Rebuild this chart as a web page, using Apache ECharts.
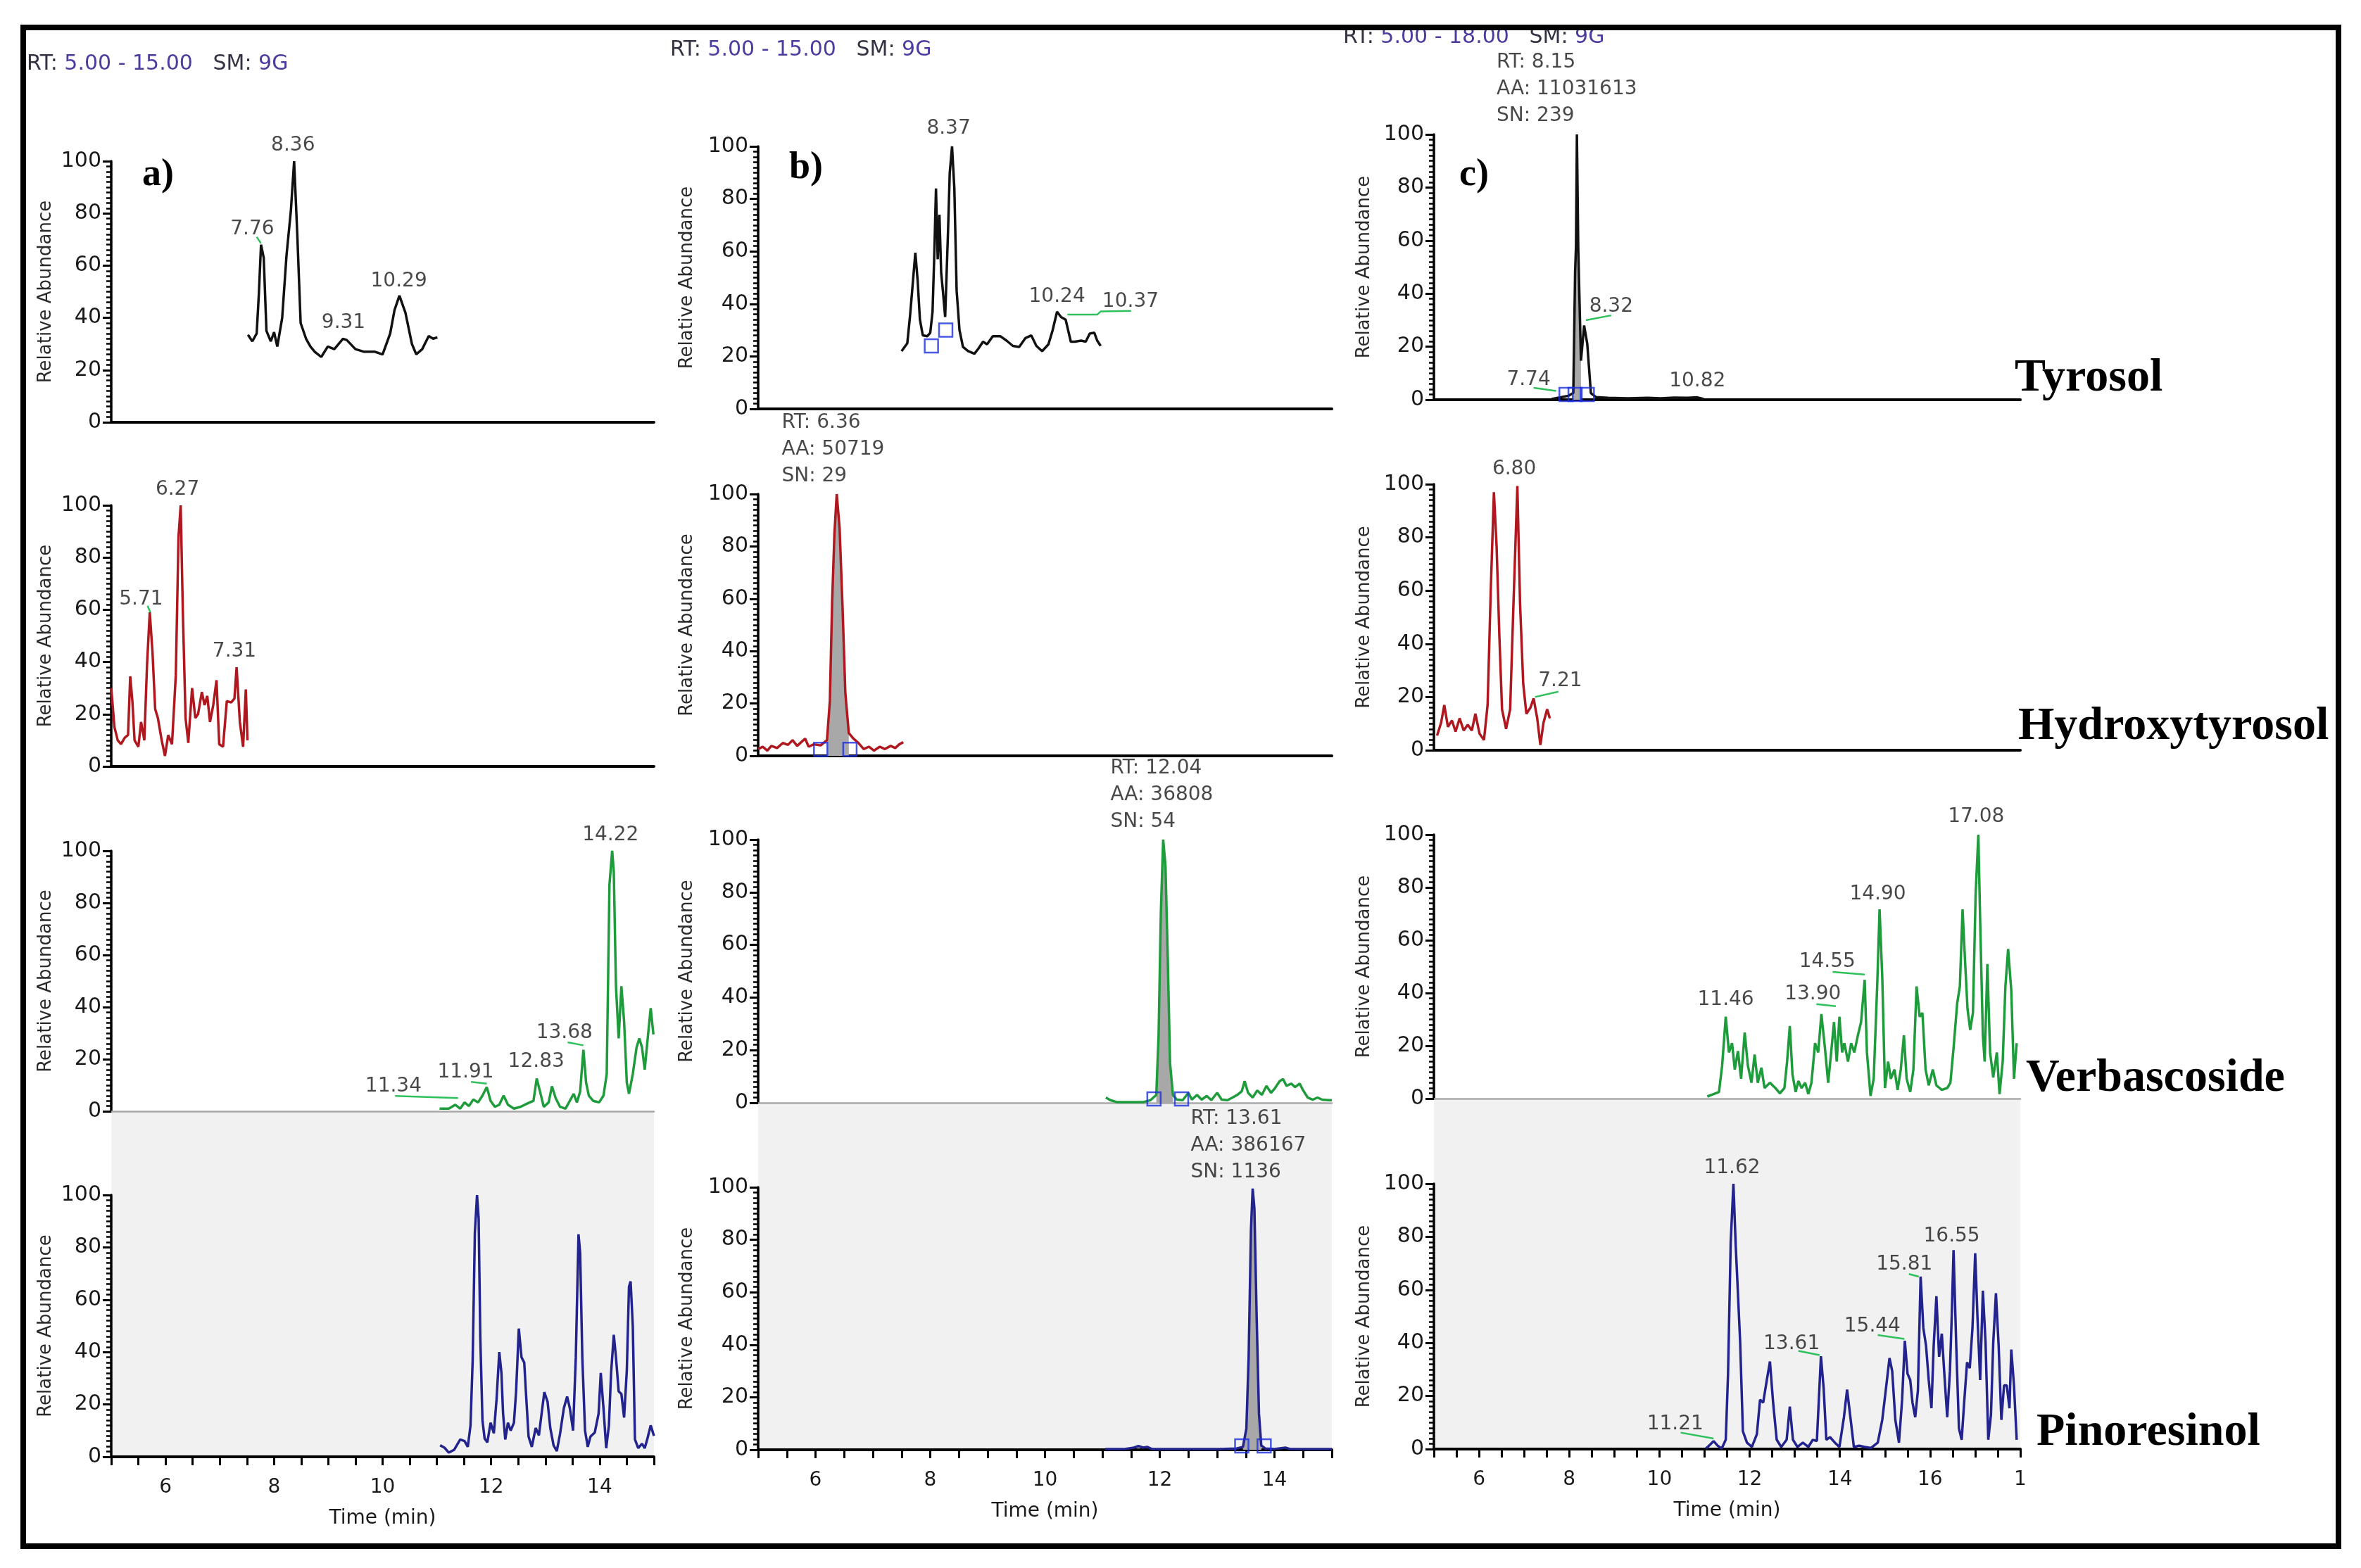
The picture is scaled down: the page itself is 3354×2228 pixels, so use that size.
<!DOCTYPE html>
<html><head><meta charset="utf-8">
<script src="https://cdn.jsdelivr.net/npm/echarts/dist/echarts.min.js"></script>
<style>html,body{margin:0;padding:0;background:#fff}#c{width:3354px;height:2228px}</style>
</head><body><div id="c"></div>
<script>
// ---------------- DATA ----------------
const compounds = ['Tyrosol', 'Hydroxytyrosol', 'Verbascoside', 'Pinoresinol'];
const panelLetters = ['a)', 'b)', 'c)'];
const rtRanges = [[5, 15], [5, 15], [5, 18]];
const headerRanges = ['5.00 - 15.00', '5.00 - 15.00', '5.00 - 18.00'];
const headerSmooth = '9G';

// Tyrosol traces [time, relative abundance]
const tyrosolA = [[7.52,33.5],[7.60,31],[7.68,34],[7.72,49],[7.76,68],[7.81,63],[7.86,35],[7.94,31],[8.00,34.5],[8.06,29],[8.15,40],[8.23,64],[8.31,81],[8.37,100],[8.43,71],[8.49,38],[8.59,32],[8.67,29],[8.75,27],[8.87,25],[8.99,29],[9.11,28],[9.27,32],[9.34,31.5],[9.50,28],[9.66,27],[9.86,27],[10.00,26],[10.14,34],[10.22,43],[10.31,48.5],[10.42,42],[10.54,30],[10.62,26],[10.73,28],[10.85,33],[10.93,32],[11.01,32.5]];
const tyrosolB = [[7.50,22],[7.60,25],[7.65,36],[7.70,49],[7.74,59.5],[7.78,49],[7.82,34],[7.87,28],[7.95,27.7],[8.00,29],[8.04,37],[8.07,58.5],[8.10,84],[8.13,57],[8.16,74],[8.19,52],[8.22,45],[8.26,35],[8.31,67.7],[8.34,90],[8.38,100],[8.42,84],[8.46,45],[8.51,30],[8.57,23.6],[8.66,22],[8.77,21],[8.84,23],[8.92,25.6],[8.99,24.6],[9.09,27.7],[9.22,27.7],[9.33,26],[9.44,24],[9.55,23.6],[9.66,27],[9.76,28],[9.85,24],[9.95,22],[10.06,24.6],[10.13,29.7],[10.21,37],[10.28,35],[10.36,34],[10.45,25.6],[10.52,25.6],[10.63,26],[10.71,25.6],[10.78,28.7],[10.86,29],[10.91,26],[10.97,24]];
const tyrosolC = [[7.61,0.3],[7.83,1],[7.98,1.5],[8.09,2.5],[8.13,48],[8.15,58],[8.17,100],[8.20,57],[8.26,14.7],[8.33,28],[8.40,21],[8.48,2.5],[8.59,1],[8.86,0.7],[9.30,0.5],[9.74,0.7],[10.03,0.5],[10.32,0.8],[10.62,0.7],[10.84,0.9],[10.98,0.3]];

// Hydroxytyrosol traces
const hydroxyA = [[5.00,30],[5.06,15],[5.12,10],[5.18,8.5],[5.25,11],[5.31,12],[5.35,34.5],[5.39,25],[5.43,10],[5.50,7.5],[5.55,17],[5.61,10],[5.66,39],[5.71,59],[5.76,44],[5.81,22],[5.86,18.5],[5.93,10],[5.99,4],[6.05,12],[6.12,8.5],[6.19,35],[6.24,88],[6.28,100],[6.32,59],[6.37,18.5],[6.42,9],[6.49,30],[6.55,18.5],[6.60,20],[6.67,28.5],[6.72,23.5],[6.77,27],[6.82,17],[6.88,23.5],[6.94,33],[6.99,8.5],[7.06,7.5],[7.13,25],[7.21,24.5],[7.27,26],[7.31,38],[7.37,17],[7.43,7.5],[7.48,29.5],[7.51,10]];
const hydroxyB = [[5.00,2.6],[5.08,3.5],[5.16,2],[5.23,3.8],[5.33,3],[5.43,4.9],[5.52,4.2],[5.60,6],[5.68,3.8],[5.75,5.2],[5.82,6.6],[5.88,3.5],[5.97,4.4],[6.09,4],[6.20,6],[6.25,21],[6.29,59],[6.33,85],[6.37,100],[6.42,87],[6.47,57.6],[6.52,24],[6.58,8.7],[6.66,6.6],[6.75,4.9],[6.84,2.6],[6.93,3.5],[7.02,2],[7.12,3.5],[7.21,2.6],[7.31,3.8],[7.39,3],[7.46,4.4],[7.53,5.2]];
const hydroxyC = [[5.07,5.5],[5.16,10.4],[5.23,17],[5.31,8.8],[5.40,11.2],[5.48,7],[5.57,12],[5.66,7.4],[5.75,9.6],[5.84,7.4],[5.92,13.7],[6.01,6.3],[6.11,3.8],[6.19,17],[6.26,60],[6.33,97],[6.39,76.5],[6.45,43.5],[6.51,15.4],[6.60,8],[6.69,15.4],[6.76,53],[6.85,99.3],[6.91,55],[6.98,25],[7.05,13.7],[7.14,16],[7.21,19.5],[7.29,12],[7.36,2],[7.43,10.4],[7.51,15.4],[7.57,12]];

// Verbascoside traces
const verbA = [[11.05,1],[11.22,1],[11.34,2.5],[11.43,1],[11.51,3.4],[11.59,2],[11.67,4.5],[11.76,3.4],[11.84,6],[11.92,9.3],[11.99,4],[12.07,1.7],[12.15,2.5],[12.23,6],[12.31,2.5],[12.42,1],[12.54,1.7],[12.67,3],[12.78,4],[12.84,12.6],[12.90,7.6],[12.97,1.7],[13.06,3.4],[13.12,9.6],[13.19,5],[13.27,1.7],[13.37,1],[13.45,4],[13.52,6.7],[13.58,3.4],[13.64,7.6],[13.70,23.6],[13.75,11],[13.80,6],[13.88,4],[13.99,3.4],[14.07,6],[14.13,14.3],[14.18,87],[14.23,100],[14.26,92],[14.30,48],[14.35,28],[14.40,48],[14.45,34.5],[14.50,11],[14.54,6.7],[14.61,14.3],[14.68,24.5],[14.73,28],[14.78,24.5],[14.83,16],[14.88,27],[14.94,39.6],[14.99,29.5]];
const verbB = [[11.06,2],[11.14,1],[11.25,0.3],[11.41,0.3],[11.57,0.3],[11.72,0.3],[11.84,1],[11.94,3],[11.98,25.6],[12.02,72.6],[12.06,100],[12.10,90],[12.14,55],[12.18,15],[12.23,3],[12.30,1.2],[12.40,1],[12.50,3.8],[12.56,1.2],[12.65,3],[12.73,1.2],[12.82,2.6],[12.90,1],[13.00,3.8],[13.08,1.2],[13.18,1],[13.27,2],[13.35,3],[13.43,4.4],[13.48,8.2],[13.54,3.8],[13.62,2],[13.70,4.7],[13.78,3],[13.86,6.4],[13.94,3.8],[14.01,5.6],[14.09,8.2],[14.15,9],[14.21,6.4],[14.29,7.3],[14.36,6],[14.44,7.3],[14.50,4.7],[14.58,2],[14.67,1.2],[14.75,2],[14.83,1.2],[14.95,1],[15.00,1]];
const verbC = [[11.06,0.8],[11.20,1.7],[11.32,2.5],[11.39,12.5],[11.47,31],[11.54,17.5],[11.61,21],[11.67,11],[11.74,18],[11.81,7.5],[11.89,25],[11.96,12.5],[12.04,6],[12.11,16.7],[12.18,6],[12.26,11.7],[12.33,4],[12.45,6],[12.57,4],[12.67,2],[12.77,4],[12.83,14],[12.89,27.5],[12.95,9],[13.02,2.5],[13.08,6.7],[13.15,4],[13.23,6],[13.30,1.7],[13.37,6],[13.45,21],[13.52,17.5],[13.59,32],[13.67,19],[13.74,6],[13.81,18],[13.87,29],[13.93,14],[13.99,31],[14.05,17.5],[14.10,21],[14.18,14],[14.25,21],[14.32,17.5],[14.40,24],[14.47,29],[14.55,45],[14.60,17.5],[14.68,1],[14.75,7.5],[14.83,44],[14.88,71.7],[14.94,46],[15.00,4],[15.07,14],[15.13,7.5],[15.21,11],[15.28,3.3],[15.35,11],[15.42,24],[15.48,7.5],[15.56,2.5],[15.63,11],[15.70,42.5],[15.77,31],[15.83,32.5],[15.90,11],[15.97,5],[16.06,11],[16.14,5],[16.26,3.3],[16.38,4],[16.45,6],[16.52,19],[16.60,36],[16.66,42.5],[16.72,71.7],[16.77,54],[16.83,34],[16.89,26],[16.95,32.5],[17.01,77.5],[17.07,100],[17.11,67.5],[17.17,24],[17.21,14],[17.27,51],[17.33,17.5],[17.40,8],[17.48,17.5],[17.54,1.7],[17.61,14],[17.67,42.5],[17.73,56.7],[17.80,41],[17.86,7.5],[17.92,21]];

// Pinoresinol traces
const pinoA = [[11.06,4.4],[11.14,3.5],[11.22,1.6],[11.32,2.7],[11.43,6.6],[11.51,6],[11.57,3.8],[11.62,12],[11.66,37],[11.70,85.5],[11.74,100],[11.77,91],[11.80,46],[11.84,14],[11.88,7],[11.93,5.5],[11.99,13],[12.05,9],[12.10,22],[12.15,40],[12.19,32],[12.22,16.5],[12.26,6.6],[12.31,13],[12.36,10],[12.42,13],[12.46,25],[12.51,49],[12.56,38],[12.61,36],[12.64,25],[12.69,7.7],[12.75,3.8],[12.82,11],[12.88,8.2],[12.93,16.5],[12.98,24.7],[13.04,21],[13.09,11],[13.15,4.4],[13.21,2.2],[13.27,8.8],[13.34,18.6],[13.40,23],[13.45,18.6],[13.51,10],[13.56,38],[13.61,85],[13.64,78],[13.68,38],[13.73,10],[13.78,3.8],[13.83,7.7],[13.91,9.3],[13.98,16.5],[14.02,32],[14.07,18.6],[14.12,3.3],[14.17,12],[14.21,32],[14.26,46.6],[14.30,38],[14.35,25],[14.40,24],[14.45,15],[14.50,33],[14.54,65],[14.57,67],[14.61,50],[14.65,6.6],[14.71,3.3],[14.78,5],[14.83,3.3],[14.88,7],[14.94,12],[15.00,8]];
const pinoB = [[11.05,0.3],[11.39,0.3],[11.55,0.8],[11.63,1.4],[11.71,0.8],[11.78,1.1],[11.86,0.3],[12.25,0.3],[12.64,0.3],[13.03,0.3],[13.34,0.5],[13.45,1.1],[13.51,8],[13.55,35.5],[13.59,83.6],[13.62,99.5],[13.65,92],[13.69,50],[13.73,13.7],[13.77,1.6],[13.84,0.5],[14.00,0.3],[14.19,0.8],[14.27,0.3],[15.00,0.3]];
const pinoC = [[11.03,0.2],[11.13,1.8],[11.20,3],[11.29,1.3],[11.38,0.2],[11.47,3.5],[11.52,28],[11.58,78],[11.64,100],[11.69,77],[11.74,58.7],[11.79,40],[11.85,6.7],[11.94,2.4],[12.05,0.8],[12.16,5.6],[12.23,18.6],[12.30,17.5],[12.38,26],[12.45,33],[12.52,17.5],[12.60,3.5],[12.70,0.8],[12.82,3.5],[12.89,16],[12.96,3.5],[13.06,0.8],[13.18,2.4],[13.30,0.8],[13.40,3.5],[13.49,3],[13.58,35],[13.64,23],[13.70,3.5],[13.78,4.5],[13.89,2.4],[13.99,0.8],[14.09,12],[14.16,22.4],[14.24,11],[14.31,0.8],[14.43,1.3],[14.55,0.8],[14.69,0.4],[14.84,2.4],[14.94,11],[15.03,24],[15.10,34.3],[15.16,29.4],[15.23,11],[15.31,2.4],[15.38,18.6],[15.44,40.8],[15.50,28.4],[15.56,26],[15.61,17.5],[15.67,12],[15.73,22],[15.79,65],[15.85,45.7],[15.91,39],[15.97,26],[16.03,15.4],[16.08,39],[16.14,57.6],[16.20,34.8],[16.26,43.5],[16.32,27.3],[16.38,12],[16.44,29.4],[16.48,50],[16.52,75],[16.58,39],[16.64,7.8],[16.70,3.5],[16.76,18.6],[16.82,32.7],[16.88,30.5],[16.94,45.7],[17.00,73.8],[17.05,50],[17.11,26],[17.17,59.7],[17.23,40],[17.29,3.5],[17.35,13],[17.40,40],[17.46,58.7],[17.52,39],[17.58,11],[17.64,24],[17.70,24],[17.76,15.4],[17.80,37.5],[17.86,24],[17.92,3.5]];

// Peak labels [time, abundance, text] (text centre)
const labelsTyrosolA = [[8.35,106,'8.36'],[7.60,74,'7.76'],[9.28,38,'9.31'],[10.30,54,'10.29']];
const labelsTyrosolB = [[8.32,106.7,'8.37'],[10.21,42.8,'10.24'],[11.49,40.7,'10.37']];
const labelsTyrosolC = [[8.93,35,'8.32'],[7.10,7.6,'7.74'],[10.84,7.1,'10.82']];
const labelsHydroxyA = [[6.22,106,'6.27'],[5.55,64,'5.71'],[7.27,44,'7.31']];
const labelsHydroxyC = [[6.78,105.5,'6.80'],[7.80,26,'7.21']];
const labelsVerbA = [[14.20,106,'14.22'],[13.35,30,'13.68'],[12.83,19,'12.83'],[11.53,15,'11.91'],[10.20,9.6,'11.34']];
const labelsVerbC = [[17.02,106.7,'17.08'],[14.84,77.5,'14.90'],[13.72,51.7,'14.55'],[13.40,39.5,'13.90'],[11.47,37.5,'11.46']];
const labelsPinoC = [[11.61,106,'11.62'],[16.48,80.3,'16.55'],[15.43,69.5,'15.81'],[14.72,46.2,'15.44'],[12.93,39.7,'13.61'],[10.35,9.4,'11.21']];

// Integrated-peak info blocks [time (left edge), abundance (middle line), text]
const infoTyrosolC = [[6.39,117,'RT: 8.15\nAA: 11031613\nSN: 239']];
const infoHydroxyB = [[5.41,117,'RT: 6.36\nAA: 50719\nSN: 29']];
const infoVerbB = [[11.14,117,'RT: 12.04\nAA: 36808\nSN: 54']];
const infoPinoB = [[12.54,116,'RT: 13.61\nAA: 386167\nSN: 1136']];

// Green label leader segments
const leadersTyrosolA = [[[7.68,71],[7.76,68.5]]];
const leadersTyrosolB = [[[10.39,35.9],[10.91,35.9],[10.97,37.1],[11.50,37.3]]];
const leadersTyrosolC = [[[8.37,30],[8.93,31.8]],[[7.21,4.5],[7.71,3.3]]];
const leadersHydroxyA = [[[5.67,61.5],[5.72,59]]];
const leadersHydroxyC = [[[7.24,20],[7.76,22]]];
const leadersVerbA = [[[13.41,26.5],[13.70,25.3]],[[11.63,11.3],[11.92,10.6]],[[10.23,5.9],[11.39,5.1]]];
const leadersVerbC = [[[13.84,48],[14.55,47]],[[13.48,35.8],[13.91,35]]];
const leadersPinoC = [[[15.53,66],[15.75,65]],[[14.84,43],[15.43,41.5]],[[13.08,37],[13.55,35.4]],[[10.47,6.2],[11.20,4]]];

// Integration boundary markers (blue squares)
const marksTyrosolB = [[8.02,24],[8.27,30]];
const marksTyrosolC = [[7.93,2],[8.13,2],[8.40,2]];
const marksHydroxyB = [[6.09,2.5],[6.60,2.5]];
const marksVerbB = [[11.90,1.5],[12.38,1.5]];
const marksPinoB = [[13.43,1.5],[13.82,1.5]];

// Integrated windows (grey fill) [from, to]
const fillTyrosolC = [8.09, 8.26];
const fillHydroxyB = [6.20, 6.58];
const fillVerbB = [11.94, 12.23];
const fillPinoB = [13.45, 13.77];

// ---------------- TABLES ----------------
const traces = [[tyrosolA, tyrosolB, tyrosolC],[hydroxyA, hydroxyB, hydroxyC],[verbA, verbB, verbC],[pinoA, pinoB, pinoC]];
const peakLabels = [[labelsTyrosolA, labelsTyrosolB, labelsTyrosolC],[labelsHydroxyA, [], labelsHydroxyC],[labelsVerbA, [], labelsVerbC],[[], [], labelsPinoC]];
const infoBlocks = [[[], [], infoTyrosolC],[[], infoHydroxyB, []],[[], infoVerbB, []],[[], infoPinoB, []]];
const leaders = [[leadersTyrosolA, leadersTyrosolB, leadersTyrosolC],[leadersHydroxyA, [], leadersHydroxyC],[leadersVerbA, [], leadersVerbC],[[], [], leadersPinoC]];
const marks = [[[], marksTyrosolB, marksTyrosolC],[[], marksHydroxyB, []],[[], marksVerbB, []],[[], marksPinoB, []]];
const fills = [[null, null, fillTyrosolC],[null, fillHydroxyB, null],[null, fillVerbB, null],[null, fillPinoB, null]];

// ---------------- STYLE / LAYOUT ----------------
const FONT = "'DejaVu Sans', 'Liberation Sans', sans-serif";
const SERIF = "'Liberation Serif', 'Times New Roman', serif";
const TEXT = '#1a1a1a';
const traceColors = ['#111111', '#b0181f', '#1e9c3c', '#23238e'];
const colLeft = [158, 1077, 2037];
const colRight = [929, 1892, 2870];
const rowTop = [[229, 718, 1209, 1698], [208, 702, 1193, 1687], [191, 688, 1186, 1682]];
const rowBottom = [[600, 1089, 1579, 2070], [581, 1074, 1567, 2060], [568, 1066, 1561, 2059]];
const yNameGap = [80, 88, 86];
const headerPos = [[38, 76], [952, 56], [1908, 38]];
const letterPos = [[202, 222], [1121, 212], [2073, 222]];
const namePos = [[2862, 505], [2867, 1000], [2878, 1500], [2893, 2003]];

const grids = [], xAxes = [], yAxes = [], series = [];
let gi = 0;
for (let c = 0; c < 3; c++) {
  for (let r = 0; r < 4; r++) {
    const bottom = r === 3;
    grids.push({ left: colLeft[c], top: rowTop[c][r], width: colRight[c] - colLeft[c], height: rowBottom[c][r] - rowTop[c][r] });
    xAxes.push({
      gridIndex: gi, type: 'value', min: rtRanges[c][0], max: rtRanges[c][1], interval: 1,
      axisLine: { show: true, onZero: false, lineStyle: { color: r === 2 ? '#a9a9a9' : '#000', width: r === 2 ? 2.5 : 4 } },
      axisTick: { show: bottom, length: 12, lineStyle: { color: '#000', width: 3 } },
      minorTick: { show: bottom, splitNumber: 2, length: 12, lineStyle: { color: '#000', width: 3 } },
      axisLabel: { show: bottom, margin: 30, fontSize: 28, fontFamily: FONT, color: TEXT,
        formatter: v => (v % 2 === 0 ? (v === 18 ? '1' : String(v)) : '') },
      splitLine: { show: false },
      name: bottom ? 'Time (min)' : '', nameLocation: 'middle', nameGap: 74,
      nameTextStyle: { fontSize: 28, fontFamily: FONT, color: TEXT }
    });
    yAxes.push({
      gridIndex: gi, type: 'value', min: 0, max: 100, interval: 20,
      axisLine: { show: true, lineStyle: { color: '#000', width: 3.5 } },
      axisTick: { show: true, length: 12, lineStyle: { color: '#000', width: 3 } },
      minorTick: { show: true, splitNumber: 10, length: 7, lineStyle: { color: '#000', width: 2.5 } },
      axisLabel: { margin: 14, fontSize: 30, fontFamily: FONT, color: TEXT },
      splitLine: { show: false },
      name: 'Relative Abundance', nameLocation: 'middle', nameGap: yNameGap[c],
      nameTextStyle: { fontSize: 26, fontFamily: FONT, color: '#2a2a2a' }
    });
    const tr = traces[r][c];
    const fw = fills[r][c];
    if (fw) {
      series.push({ type: 'line', xAxisIndex: gi, yAxisIndex: gi, symbol: 'none', silent: true, z: 2,
        data: tr.filter(p => p[0] >= fw[0] && p[0] <= fw[1]),
        lineStyle: { width: 0 }, areaStyle: { color: '#a8a8a8', opacity: 1 } });
    }
    series.push({ type: 'line', xAxisIndex: gi, yAxisIndex: gi, symbol: 'none', silent: true, z: 3,
      data: tr, lineStyle: { color: traceColors[r], width: 3.5 } });
    leaders[r][c].forEach(seg => {
      series.push({ type: 'line', xAxisIndex: gi, yAxisIndex: gi, symbol: 'none', silent: true, z: 4, clip: false,
        data: seg, lineStyle: { color: '#2ec05a', width: 2.5 } });
    });
    if (marks[r][c].length) {
      series.push({ type: 'scatter', xAxisIndex: gi, yAxisIndex: gi, symbol: 'rect', symbolSize: 19, silent: true, z: 5,
        data: marks[r][c], itemStyle: { color: 'rgba(255,255,255,0)', borderColor: '#1b2fe0', borderWidth: 2.5 } });
    }
    if (peakLabels[r][c].length) {
      series.push({ type: 'scatter', xAxisIndex: gi, yAxisIndex: gi, symbolSize: 1, silent: true, z: 6, clip: false,
        data: peakLabels[r][c].map(d => ({ name: d[2], value: [d[0], d[1]] })),
        itemStyle: { color: 'rgba(0,0,0,0)' },
        label: { show: true, position: 'inside', formatter: '{b}', fontSize: 28, fontFamily: FONT, color: TEXT } });
    }
    if (infoBlocks[r][c].length) {
      series.push({ type: 'scatter', xAxisIndex: gi, yAxisIndex: gi, symbolSize: 1, silent: true, z: 6, clip: false,
        data: infoBlocks[r][c].map(d => ({ name: d[2], value: [d[0], d[1]] })),
        itemStyle: { color: 'rgba(0,0,0,0)' },
        label: { show: true, position: 'inside', align: 'left', verticalAlign: 'middle', lineHeight: 38,
          formatter: '{b}', fontSize: 28, fontFamily: FONT, color: TEXT } });
    }
    gi++;
  }
}

const titles = [];
for (let c = 0; c < 3; c++) {
  titles.push({ left: headerPos[c][0], top: headerPos[c][1], padding: 0,
    text: '{k|RT:} {v|' + headerRanges[c] + '}   {k|SM:} {v|' + headerSmooth + '}',
    textStyle: { fontSize: 30, fontFamily: FONT, fontWeight: 'normal', color: '#333',
      rich: { k: { color: '#333344', fontSize: 30, fontFamily: FONT }, v: { color: '#4a3d9e', fontSize: 30, fontFamily: FONT } } } });
  titles.push({ left: letterPos[c][0], top: letterPos[c][1], padding: 0, text: panelLetters[c],
    textStyle: { fontSize: 54, fontFamily: SERIF, fontWeight: 'bold', color: '#000' } });
}
compounds.forEach((n, r) => titles.push({ left: namePos[r][0], top: namePos[r][1], padding: 0, text: n,
  textStyle: { fontSize: 66, fontFamily: SERIF, fontWeight: 'bold', color: '#000' } }));

const graphics = [];
for (let c = 0; c < 3; c++) {
  graphics.push({ type: 'rect', silent: true, z: -10,
    shape: { x: colLeft[c], y: rowBottom[c][2], width: colRight[c] - colLeft[c], height: rowBottom[c][3] - rowBottom[c][2] },
    style: { fill: '#f1f1f1' } });
}
graphics.push({ type: 'rect', silent: true, z: 100, shape: { x: 33, y: 39, width: 3289, height: 2158 },
  style: { fill: 'rgba(0,0,0,0)', stroke: '#000', lineWidth: 8 } });

const chart = echarts.init(document.getElementById('c'), null, { width: 3354, height: 2228 });
chart.setOption({
  backgroundColor: '#fff', animation: false,
  title: titles, grid: grids, xAxis: xAxes, yAxis: yAxes, series: series, graphic: graphics
});
</script></body></html>
